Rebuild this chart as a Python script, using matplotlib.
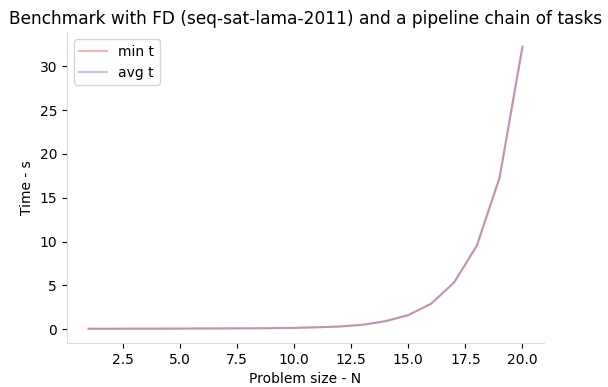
import numpy as np
import matplotlib.pyplot as plt

# problem sizes and measured times (seconds)
sizes = np.arange(1, 21)
min_t = [0.05, 0.05, 0.06, 0.06, 0.07, 0.08, 0.09, 0.10, 0.12, 0.15,
         0.22, 0.30, 0.50, 0.90, 1.60, 2.90, 5.30, 9.50, 17.30, 32.20]
avg_t = [0.05, 0.05, 0.06, 0.06, 0.07, 0.08, 0.09, 0.10, 0.12, 0.15,
         0.22, 0.31, 0.51, 0.92, 1.62, 2.92, 5.33, 9.55, 17.35, 32.30]

fig, ax = plt.subplots(figsize=(6.08, 3.87), dpi=100)
fig.subplots_adjust(left=0.110, right=0.895, top=0.917, bottom=0.114)

ax.plot(sizes, min_t, color="red", alpha=0.3, label="min t")
ax.plot(sizes, avg_t, color="#2f48b8", alpha=0.3, label="avg t")

ax.set_title("Benchmark with FD (seq-sat-lama-2011) and a pipeline chain of tasks",
             fontsize=12.25)
ax.set_xlabel("Problem size - N")
ax.set_ylabel("Time - s")
ax.legend(loc="upper left")

for side in ("top", "right"):
    ax.spines[side].set_visible(False)
for side in ("left", "bottom"):
    ax.spines[side].set_color("#dddddd")

plt.savefig("out.png", dpi=100)
